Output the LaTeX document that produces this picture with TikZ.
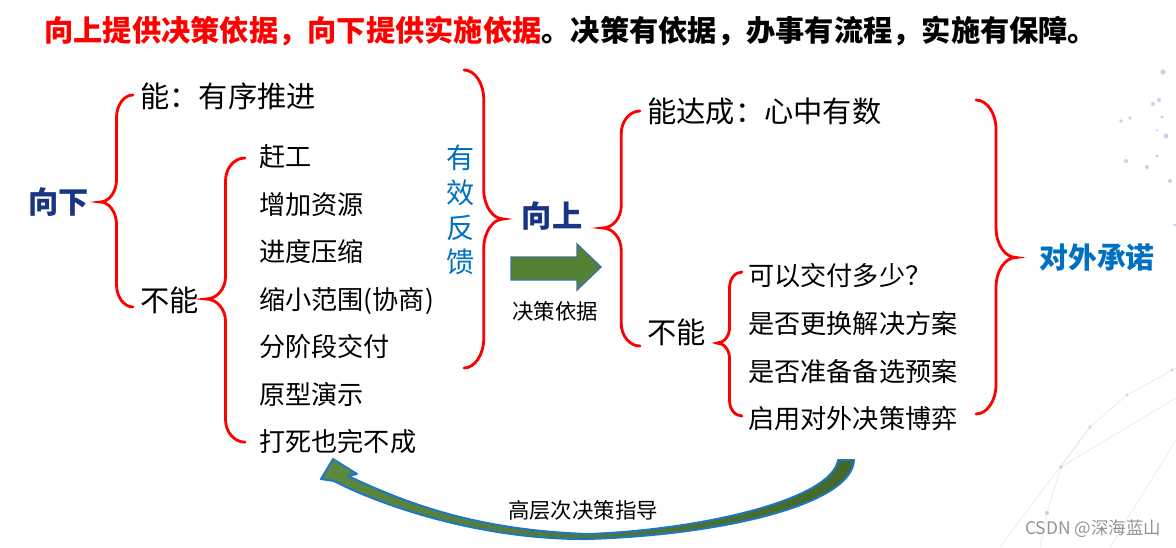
\documentclass[tikz,border=0pt]{standalone}
\usepackage{fontspec}
\setmainfont{Noto Sans CJK SC}
\usetikzlibrary{positioning,calc}

\definecolor{dirblue}{RGB}{24,52,130}
\definecolor{fbblue}{RGB}{0,112,192}
\definecolor{leaf}{RGB}{84,130,53}
\definecolor{leafedge}{RGB}{65,113,156}
\definecolor{bandedge}{RGB}{30,118,200}
\definecolor{dotc}{RGB}{196,212,232}
\definecolor{netc}{RGB}{230,236,245}

% curly brace: #1 curl radius (pt), #2 top end, #3 bottom end, #4 tip
\newcommand\drawbrace[4][16]{%
  \draw[bracestroke] let \p1=(#2), \p2=(#3), \p3=(#4), \n1={(\x1+\x3)/2}, \n2={(\x3-\x1)/2} in
    (\p1) .. controls ({\x1+0.55*\n2*1pt},\y1) and ({\n1*1pt},{\y1-0.45*#1pt}) .. ({\n1*1pt},{\y1-#1pt})
    -- ({\n1*1pt},{\y3+#1pt}) .. controls ({\n1*1pt},{\y3+0.45*#1pt}) and ({\n1*1pt+0.45*\n2*1pt},\y3) .. (\p3)
    .. controls ({\n1*1pt+0.45*\n2*1pt},\y3) and ({\n1*1pt},{\y3-0.45*#1pt}) .. ({\n1*1pt},{\y3-#1pt})
    -- ({\n1*1pt},{\y2+#1pt}) .. controls ({\n1*1pt},{\y2+0.45*#1pt}) and ({\x2+0.55*\n2*1pt},\y2) .. (\p2);%
}

\begin{document}
\begin{tikzpicture}[
    x=0.025cm, y=-0.025cm,
    head/.style={anchor=west, inner sep=0, font=\bfseries\fontsize{20.8}{25}\selectfont, text height=18.3pt, text depth=2.5pt},
    tag/.style={inner sep=0, font=\bfseries\fontsize{21.5}{26}\selectfont, text=dirblue, text height=18.9pt, text depth=2.6pt},
    lbl/.style={anchor=west, inner sep=0, font=\fontsize{20.8}{25}\selectfont, text height=18.3pt, text depth=2.5pt},
    item/.style={anchor=west, inner sep=0, font=\fontsize{18.6}{22}\selectfont, text height=16.4pt, text depth=2.2pt},
    note/.style={inner sep=0, font=\fontsize{15.2}{18}\selectfont, text height=13.4pt, text depth=1.8pt},
    fbtext/.style={inner sep=0, align=center, text=fbblue, font=\fontsize{20}{24.8}\selectfont},
    bracestroke/.style={draw=red, line width=2pt, line cap=round},
    blockarrow/.style={fill=leaf, draw=leafedge, line width=1pt},
    bandarrow/.style={left color=leaf!95!white, right color=leaf!80!black, draw=bandedge, line width=1.4pt, line join=round}
  ]
  \path[use as bounding box] (0,0) rectangle (1176,547);

  % faint background network
  \draw[netc, line width=0.6pt] (1040,547) -- (1047,513) -- (1061,467) -- (1090,427) -- (1127,395) -- (1176,368);
  \draw[netc, line width=0.6pt] (1000,547) -- (1090,427) (1110,547) -- (1176,440) (1061,467) -- (1176,398);
  \fill[dotc] (1163,72) circle (2.5) (1159,100) circle (2) (1153,104) circle (2) (1162,117) circle (1.6)
    (1130,118) circle (1.8) (1121,121) circle (1.8) (1166,136) circle (2.5) (1157,130) circle (1.4)
    (1126,161) circle (2) (1157,156) circle (1.6) (1147,167) circle (2) (1170,181) circle (2)
    (1175,225) circle (1.6) (1172,370) circle (1.6) (1127,395) circle (1.6) (1090,427) circle (1.6)
    (1061,467) circle (1.8) (1047,513) circle (2);

  \node[head] (title) at (44,30) {{\color{red}向上提供决策依据，向下提供实施依据}。决策有依据，办事有流程，实施有保障。};

  % downward side
  \node[tag] (down) at (58.5,202) {向下};
  \node[lbl] (can1) at (140,96) {能：有序推进};
  \node[lbl] (cannot1) at (140,300) {不能};
  \node[item] (a1) at (259,156.5) {赶工};
  \node[item, below right=5.2mm and 0mm of a1.south west] (a2) {增加资源};
  \node[item, below right=5.2mm and 0mm of a2.south west] (a3) {进度压缩};
  \node[item, below right=5.2mm and 0mm of a3.south west] (a4) {缩小范围(协商)};
  \node[item, below right=5.2mm and 0mm of a4.south west] (a5) {分阶段交付};
  \node[item, below right=5.2mm and 0mm of a5.south west] (a6) {原型演示};
  \node[item, below right=5.2mm and 0mm of a6.south west] (a7) {打死也完不成};
  \node[fbtext] (fb) at (461,210) {有\\效\\反\\馈};

  % upward side
  \node[tag] (up) at (552,216) {向上};
  \node[note] (basis) at (555,311.5) {决策依据};
  \node[lbl] (can2) at (647,111) {能达成：心中有数};
  \node[lbl] (cannot2) at (647,332) {不能};
  \node[item] (q1) at (748,276) {可以交付多少？};
  \node[item, below right=5.2mm and 0mm of q1.south west] (q2) {是否更换解决方案};
  \node[item, below right=5.2mm and 0mm of q2.south west] (q3) {是否准备备选预案};
  \node[item, below right=5.2mm and 0mm of q3.south west] (q4) {启用对外决策博弈};
  \node[tag, text=fbblue, font=\bfseries\fontsize{20.5}{25}\selectfont] (promise) at (1097,257.5) {对外承诺};
  \node[note] (guide) at (583,510) {高层次决策指导};
  \node[inner sep=0, text=gray!85, font=\fontsize{12.4}{15}\selectfont] (mark) at (1093,529) {CSDN @深海蓝山};

  \coordinate (fbtop) at (464,70);
  \coordinate (fbbot) at (464,368);
  \coordinate (ustop) at (976,100);
  \coordinate (usbot) at (976,414);

  % braces
  \drawbrace{[shift={(-7,-1)}]can1.west}{[shift={(-7,7)}]cannot1.west}{[shift={(11,0)}]down.east}
  \drawbrace{[shift={(-14,1.5)}]a1.west}{[shift={(-14,0.5)}]a7.west}{[shift={(7,-1)}]cannot1.east}
  \drawbrace[21]{fbtop}{fbbot}{[shift={(-18,3)}]up.west}
  \drawbrace{[shift={(-7,0)}]can2.west}{[shift={(-7,14)}]cannot2.west}{[shift={(20,12)}]up.east}
  \drawbrace[11]{[shift={(-6,-4)}]q1.west}{[shift={(-6,-2.5)}]q4.west}{[shift={(11,11)}]cannot2.east}
  \drawbrace[21]{ustop}{usbot}{[shift={(-23,0)}]promise.west}

  % block arrows
  \filldraw[blockarrow] (511,257) -- (577,257) -- (577,244) -- (601,267) -- (577,290) -- (577,280) -- (511,280) -- cycle;
  \draw[bandarrow] (838,460) -- (854,460)
    .. controls (852,505) and (720,535) .. (588,539)
    .. controls (480,540) and (380,505) .. (334,481)
    -- (321,479) -- (333,459) -- (357,474) -- (348,476)
    .. controls (400,500) and (470,530) .. (588,534)
    .. controls (700,530) and (832,500) .. (838,460) -- cycle;
\end{tikzpicture}
\end{document}
